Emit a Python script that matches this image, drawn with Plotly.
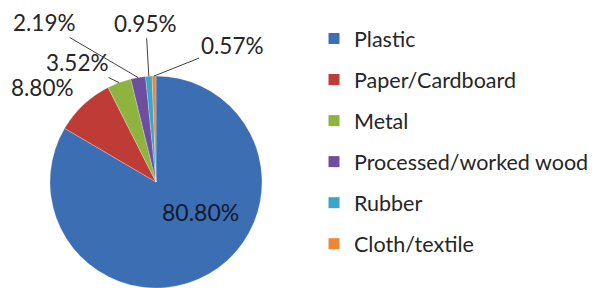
import math
import plotly.graph_objects as go

categories = ["Plastic", "Paper/Cardboard", "Metal", "Processed/worked wood", "Rubber", "Cloth/textile"]
values = [80.80, 8.80, 3.52, 2.19, 0.95, 0.57]
value_labels = ["80.80%", "8.80%", "3.52%", "2.19%", "0.95%", "0.57%"]
colors = ["#3C6EB4", "#BF3B36", "#8EB43F", "#6E4E9E", "#3AA5C6", "#EE8632"]

W, H = 598, 288
CX, CY, R = 156, 182, 106  # pie centre / radius in pixels
FONT = "Lato"
TXT = "#262626"

fig = go.Figure()
fig.add_trace(go.Pie(
    labels=categories, values=values, sort=False, direction="clockwise", rotation=0,
    marker=dict(colors=colors, line=dict(color="rgba(255,255,255,0.5)", width=0.5)),
    textinfo="none", hoverinfo="label+value", showlegend=False,
    domain=dict(x=[(CX - R) / W, (CX + R) / W], y=[(H - CY - R) / H, (H - CY + R) / H]),
))

# legend entries
for i, (cat, col) in enumerate(zip(categories, colors)):
    fig.add_trace(go.Scatter(x=[None], y=[None], mode="markers", name=cat,
                             legendgroup=cat,
                             marker=dict(symbol="square", size=11, color=col)))

# label placement (pixel offsets of label text relative to slice edge)
offsets = [(44, 30), (-41, -17), (-42, -20), (-94, -55), (-3, -53), (78, -31)]
arrows = [False, False, True, True, True, True]

total = sum(values)
cum = 0.0
annotations = []
for i, v in enumerate(values):
    mid = (cum + v / 2) / total
    cum += v
    ang = 2 * math.pi * mid
    tx = CX + R * math.sin(ang)
    ty = CY - R * math.cos(ang)
    ax, ay = offsets[i]
    if i == 0:
        # inside label: offset from the pie centre
        annotations.append(dict(x=(CX + ax) / W, y=1 - (CY + ay) / H, xref="paper", yref="paper",
                                xanchor="center", yanchor="middle",
                                text=value_labels[i], showarrow=False,
                                font=dict(family=FONT, size=23, color="#111a2a")))
    elif not arrows[i]:
        annotations.append(dict(x=(tx + ax) / W, y=1 - (ty + ay) / H, xref="paper", yref="paper",
                                xanchor="center", yanchor="middle",
                                text=value_labels[i], showarrow=False,
                                font=dict(family=FONT, size=22.5, color=TXT)))
    else:
        annotations.append(dict(x=tx / W, y=1 - ty / H, xref="paper", yref="paper",
                                text=value_labels[i], showarrow=True, arrowhead=0, arrowwidth=1,
                                arrowcolor="#404040", ax=ax, ay=ay, standoff=0,
                                font=dict(family=FONT, size=22.5, color=TXT)))

fig.update_layout(
    width=W, height=H, margin=dict(l=0, r=0, t=0, b=0),
    paper_bgcolor="white", plot_bgcolor="white",
    xaxis=dict(visible=False), yaxis=dict(visible=False),
    annotations=annotations,
    legend=dict(x=314 / W, y=1 - 18 / H, xanchor="left", yanchor="top",
                font=dict(family=FONT, size=21.5, color=TXT),
                tracegroupgap=10.1, bgcolor="rgba(0,0,0,0)"),
    font=dict(family=FONT),
)

fig.write_html("out.html", config={"displayModeBar": False},
               post_script="document.body.style.margin='0';")
